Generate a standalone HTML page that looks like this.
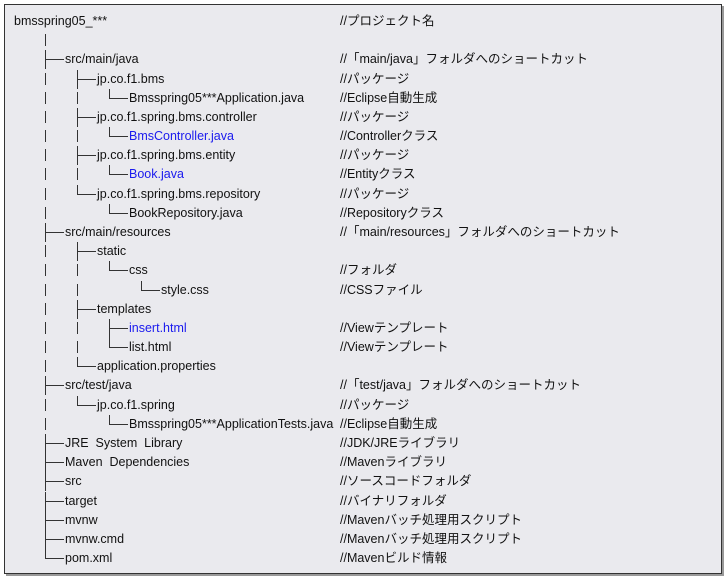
<!DOCTYPE html>
<html><head><meta charset="utf-8"><style>
html,body{margin:0;padding:0;background:#fff;width:726px;height:579px;overflow:hidden}
#box{position:absolute;left:4px;top:4px;width:716px;height:568px;background:#eaeaee;border:1px solid #333;box-shadow:2px 2px 0 #999}
.t{position:absolute;font:12.5px "Liberation Sans","Noto Sans CJK JP",sans-serif;color:#111;white-space:nowrap;line-height:14px}
.b{color:#1a1aee}
.v,.h{position:absolute;background:#333}
</style></head><body>
<div id="box"></div>
<div id="c"></div>
<script>
var R=[
[[],"bmsspring05_***","//プロジェクト名"],
[["p"],"",""],
[["t"],"src/main/java","//「main/java」フォルダへのショートカット"],
[["p","t"],"jp.co.f1.bms","//パッケージ"],
[["p","p","l"],"Bmsspring05***Application.java","//Eclipse自動生成"],
[["p","t"],"jp.co.f1.spring.bms.controller","//パッケージ"],
[["p","p","l"],"BmsController.java","//Controllerクラス",1],
[["p","t"],"jp.co.f1.spring.bms.entity","//パッケージ"],
[["p","p","l"],"Book.java","//Entityクラス",1],
[["p","l"],"jp.co.f1.spring.bms.repository","//パッケージ"],
[["p"," ","l"],"BookRepository.java","//Repositoryクラス"],
[["t"],"src/main/resources","//「main/resources」フォルダへのショートカット"],
[["p","t"],"static",""],
[["p","p","l"],"css","//フォルダ"],
[["p","p"," ","l"],"style.css","//CSSファイル"],
[["p","t"],"templates",""],
[["p","p","t"],"insert.html","//Viewテンプレート",1],
[["p","p","l"],"list.html","//Viewテンプレート"],
[["p","l"],"application.properties",""],
[["t"],"src/test/java","//「test/java」フォルダへのショートカット"],
[["p","l"],"jp.co.f1.spring","//パッケージ"],
[["p"," ","l"],"Bmsspring05***ApplicationTests.java","//Eclipse自動生成"],
[["t"],"JRE  System  Library","//JDK/JREライブラリ"],
[["t"],"Maven  Dependencies","//Mavenライブラリ"],
[["t"],"src","//ソースコードフォルダ"],
[["t"],"target","//バイナリフォルダ"],
[["t"],"mvnw","//Mavenバッチ処理用スクリプト"],
[["t"],"mvnw.cmd","//Mavenバッチ処理用スクリプト"],
[["l"],"pom.xml","//Mavenビルド情報"]];
var h="";
R.forEach(function(r,i){
 var y=21+i*19.18;
 var tx=14;
 r[0].forEach(function(k,j){
  var x=45+32*j;
  if(k=="p")h+='<div class="v" style="left:'+x+'px;top:'+(y-6)+'px;width:1px;height:12px"></div>';
  if(k=="t"||k=="l"){
   var bot=k=="t"?y+10:y;
   h+='<div class="v" style="left:'+x+'px;top:'+(y-9)+'px;width:1px;height:'+(bot-y+9)+'px"></div>';
   h+='<div class="h" style="left:'+x+'px;top:'+y+'px;width:19px;height:1px"></div>';
   tx=x+20;
  }
 });
 if(r[1])h+='<div class="t'+(r[3]?' b':'')+'" style="left:'+tx+'px;top:'+(y-7)+'px">'+r[1].replace(/  /g,'&nbsp; ')+'</div>';
 if(r[2])h+='<div class="t" style="left:340px;top:'+(y-7)+'px">'+r[2]+'</div>';
});
document.getElementById("c").innerHTML=h;
</script>
</body></html>
